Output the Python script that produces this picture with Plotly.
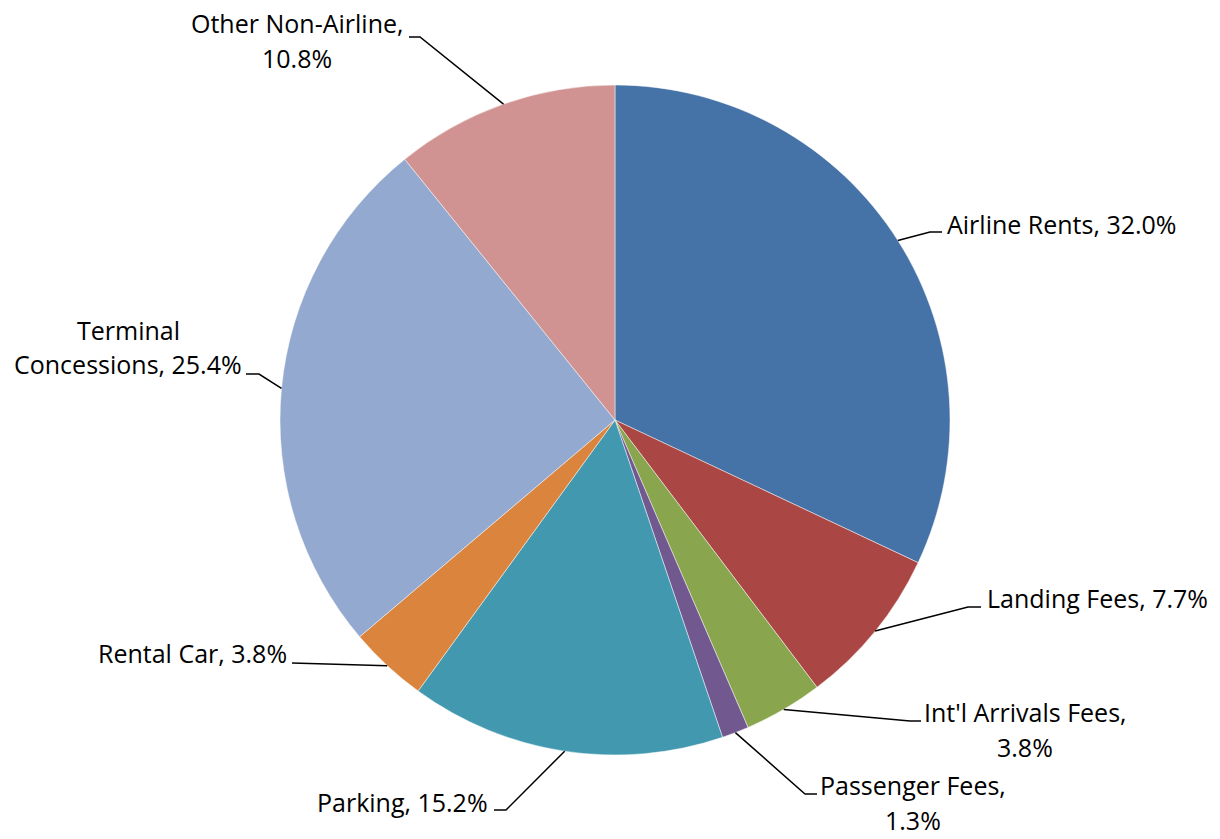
import math
import plotly.graph_objects as go

# Revenue shares by source (percent)
categories = ["Airline Rents", "Landing Fees", "Int'l Arrivals Fees", "Passenger Fees",
              "Parking", "Rental Car", "Terminal Concessions", "Other Non-Airline"]
shares = [32.0, 7.7, 3.8, 1.3, 15.2, 3.8, 25.4, 10.8]
colors = ["#4572A7", "#AA4643", "#89A54E", "#71588F",
          "#4198AF", "#DB843D", "#93A9CF", "#D19392"]

W, H = 1220, 839
CX, CY, R = 615, 420, 335   # pie centre and radius in pixels
LINE_GAP = 35               # spacing between lines of a wrapped label
FONT = dict(family="Open Sans", size=25, color="black")

# Label placement: text anchor, text position, elbow and end of leader line (pixels)
label_layout = [
    dict(name="Airline Rents", sep=", ", xa="left", tx=945, ty=224, elbow=(930, 232), end=(942, 232)),
    dict(name="Landing Fees", sep=", ", xa="left", tx=985, ty=598, elbow=(968, 607), end=(981, 607)),
    dict(name="Int'l Arrivals Fees", sep=",<br>", xa="center", tx=1025, ty=729, elbow=(910, 721), end=(921, 721)),
    dict(name="Passenger Fees", sep=",<br>", xa="center", tx=913, ty=802, elbow=(805, 794), end=(817, 794)),
    dict(name="Parking", sep=", ", xa="right", tx=490, ty=802, elbow=(506, 810), end=(494, 810)),
    dict(name="Rental Car", sep=", ", xa="right", tx=289, ty=653, elbow=(292, 663), end=(292, 663)),
    dict(name="Terminal<br>Concessions", sep=", ", xa="center", tx=128, ty=347, elbow=(259, 374), end=(246, 374)),
    dict(name="Other Non-Airline", sep=",<br>", xa="center", tx=297, ty=40, elbow=(420, 37), end=(409, 37)),
]


def px(x):
    return x / W


def py(y):
    return 1 - y / H


fig = go.Figure(go.Pie(
    labels=categories,
    values=shares,
    sort=False,
    direction="clockwise",
    rotation=0,
    marker=dict(colors=colors, line=dict(color="rgba(255,255,255,0.6)", width=0.8)),
    textinfo="none",
    hoverinfo="label+percent",
    domain=dict(x=[px(CX - R), px(CX + R)], y=[py(CY + R), py(CY - R)]),
    showlegend=False,
))

total = sum(shares)
cum = 0.0
shapes, annotations = [], []
for val, lay in zip(shares, label_layout):
    # leader line starts on the rim at the middle of the slice
    mid = (cum + val / 2) / total * 2 * math.pi
    cum += val
    sx = CX + R * math.sin(mid)
    sy = CY - R * math.cos(mid)
    ex, ey = lay["elbow"]
    fx, fy = lay["end"]
    path = f"M {px(sx)},{py(sy)} L {px(ex)},{py(ey)} L {px(fx)},{py(fy)}"
    shapes.append(dict(type="path", path=path, xref="paper", yref="paper",
                       line=dict(color="black", width=1.5)))

    lines = f"{lay['name']}{lay['sep']}{val:.1f}%".split("<br>")
    n = len(lines)
    for i, line in enumerate(lines):
        y_line = lay["ty"] + (i - (n - 1) / 2) * LINE_GAP
        annotations.append(dict(
            text=line, x=px(lay["tx"]), y=py(y_line), xref="paper", yref="paper",
            xanchor=lay["xa"], yanchor="middle", align="center", showarrow=False,
            font=FONT,
        ))

fig.update_layout(
    width=W, height=H,
    margin=dict(l=0, r=0, t=0, b=0),
    paper_bgcolor="white", plot_bgcolor="white",
    shapes=shapes, annotations=annotations,
)

fig.write_html("out.html")
